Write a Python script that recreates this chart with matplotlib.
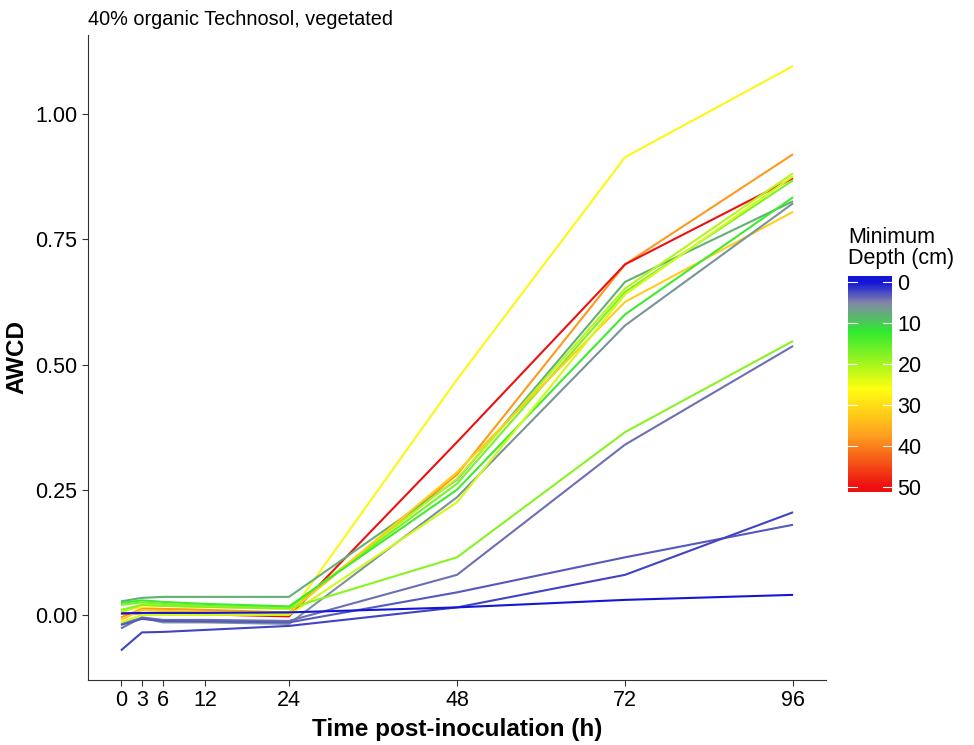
import numpy as np
import matplotlib
matplotlib.use("Agg")
import matplotlib.pyplot as plt
from matplotlib.colors import LinearSegmentedColormap, Normalize

plt.rcParams['font.family'] = ['Liberation Sans', 'DejaVu Sans']

hours = [0, 3, 6, 12, 24, 48, 72, 96]

# minimum depth (cm) of each profile, and AWCD at each time point
depths = [27, 38, 50, 8, 21, 17, 32, 13, 6, 23, 18, 4, 3, 2, 0]
awcd = [
    [0.010, 0.015, 0.012, 0.010, 0.000, 0.470, 0.914, 1.096],   # yellow
    [-0.005, 0.012, 0.012, 0.010, 0.005, 0.280, 0.700, 0.920],  # orange
    [0.003, 0.003, 0.002, 0.001, -0.003, 0.345, 0.700, 0.872],  # red
    [0.027, 0.034, 0.036, 0.036, 0.036, 0.270, 0.665, 0.826],   # grey-green
    [0.005, 0.020, 0.018, 0.016, 0.012, 0.272, 0.652, 0.882],   # green-yellow
    [0.020, 0.025, 0.022, 0.018, 0.014, 0.262, 0.645, 0.868],   # lime
    [-0.010, 0.010, 0.008, 0.006, 0.004, 0.285, 0.625, 0.805],  # yellow-orange
    [0.024, 0.029, 0.026, 0.022, 0.017, 0.250, 0.600, 0.834],   # green
    [-0.017, -0.006, -0.015, -0.015, -0.018, 0.235, 0.578, 0.822],  # grey
    [-0.015, 0.000, 0.000, 0.000, 0.000, 0.225, 0.640, 0.876],  # yellow-green
    [0.010, 0.020, 0.018, 0.016, 0.013, 0.115, 0.365, 0.547],   # light green
    [-0.027, -0.005, -0.010, -0.010, -0.012, 0.080, 0.340, 0.537],  # grey-blue
    [-0.020, -0.008, -0.012, -0.013, -0.015, 0.045, 0.115, 0.180],  # lavender
    [-0.071, -0.035, -0.034, -0.030, -0.022, 0.015, 0.080, 0.205],  # purple-blue
    [0.003, 0.004, 0.004, 0.004, 0.005, 0.015, 0.030, 0.040],   # blue
]

cmap = LinearSegmentedColormap.from_list(
    "depth",
    [(0.0, "#1515d8"), (0.1, "#8488a8"), (0.24, "#30ea30"),
     (0.52, "#ffff10"), (0.74, "#ffa520"), (1.0, "#ee1010")])
norm = Normalize(0, 50)

fig = plt.figure(figsize=(9.74, 7.45), dpi=100)
ax = fig.add_axes([88/974, 1-680/745, 738/974, 645/745])

for d, y in zip(depths, awcd):
    ax.plot(hours, y, color=cmap(norm(d)), lw=1.5, solid_capstyle='butt')

ax.set_xlim(-4.7, 100.7)
ax.set_ylim(-0.13, 1.158)
ax.set_xticks(hours)
ax.set_yticks([0, 0.25, 0.5, 0.75, 1.0])
ax.set_yticklabels(["0.00", "0.25", "0.50", "0.75", "1.00"])
ax.tick_params(labelsize=15.5, length=4, color="#333333", labelcolor="black")
for s in ["top", "right"]:
    ax.spines[s].set_visible(False)
for s in ["left", "bottom"]:
    ax.spines[s].set_color("#333333")
ax.set_xlabel("Time post-inoculation (h)", fontsize=17.5, fontweight="bold",
              labelpad=5)
ax.set_ylabel("AWCD", fontsize=17.5, fontweight="bold", labelpad=5)
ax.set_title("40% organic Technosol, vegetated", loc="left", fontsize=14.3, pad=7)

# colour bar
cax = fig.add_axes([848/974, 1-492/745, 44/974, 216/745])
lo, hi = -1.46, 51.2
grad = np.linspace(lo, hi, 300).reshape(-1, 1)
cax.imshow(grad, cmap=cmap, norm=norm, aspect="auto",
           extent=[0, 1, hi, lo])
cax.set_xlim(0, 1)
cax.set_ylim(hi, lo)
cax.set_xticks([])
ticks = [0, 10, 20, 30, 40, 50]
cax.set_yticks(ticks)
cax.yaxis.tick_right()
cax.tick_params(axis="y", length=0, labelsize=15.5, pad=4)
for t in ticks:
    cax.plot([0, 0.2], [t, t], color="white", lw=0.8)
    cax.plot([0.8, 1], [t, t], color="white", lw=0.8)
for s in cax.spines.values():
    s.set_visible(False)
fig.text(848/974, 1-248/745, "Minimum\nDepth (cm)", fontsize=15.5,
         va="center", ha="left", linespacing=0.95)

fig.savefig("out.png", dpi=100)
